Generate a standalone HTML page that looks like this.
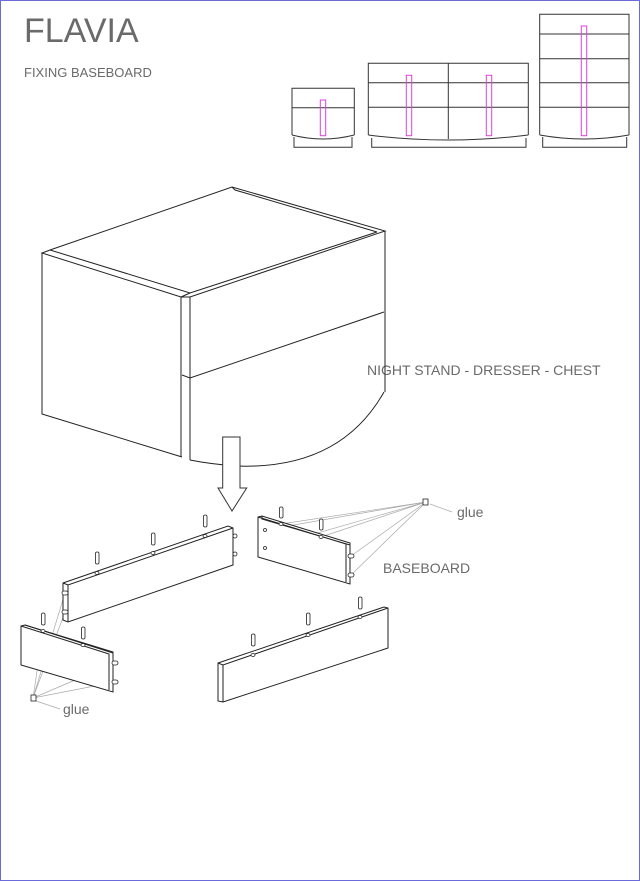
<!DOCTYPE html>
<html><head><meta charset="utf-8"><style>
html,body{margin:0;padding:0;background:#fff}
svg{display:block}
text{font-family:"Liberation Sans",Arial,sans-serif;fill:#6a6a6a}
</style></head><body>
<svg width="640" height="881" viewBox="0 0 640 881" xmlns="http://www.w3.org/2000/svg">
<rect x="0.5" y="0.5" width="639" height="880" fill="#fff" stroke="#6b6bdc" stroke-width="1"/>
<text x="24" y="42" font-size="34">FLAVIA</text>
<text x="24" y="77" font-size="13">FIXING BASEBOARD</text>
<text x="367" y="375" font-size="14">NIGHT STAND - DRESSER - CHEST</text>
<text x="383" y="573" font-size="14">BASEBOARD</text>
<text x="457" y="517" font-size="14">glue</text>
<text x="63" y="714" font-size="14">glue</text>

<g fill="none" stroke="#333" stroke-width="1">
<path d="M292,135 V88.3 H354.3 V135 M292,107.7 H354.3 M292,135 Q323,143 354.3,135 M294,137 V147.3 H352 V137"/>
<path d="M368.3,135 V63.3 H528.3 V135 M368.3,82.7 H528.3 M368.3,107.3 H528.3 M448.3,63.3 V139 M368.3,135 Q448,145 528.3,135 M371.7,138 V147.3 H526 V138"/>
<path d="M539.7,135 V14.3 H629 V135 M539.7,34 H629 M539.7,58.7 H629 M539.7,82.7 H629 M539.7,107.3 H629 M539.7,135 Q584,143 629,135 M542.7,137 V147.3 H626.7 V137"/>
</g>
<g fill="none" stroke="#e040e0" stroke-width="1">
<rect x="320.3" y="100" width="5.4" height="35.7"/>
<rect x="406.3" y="75.3" width="5.4" height="60.4"/>
<rect x="486.3" y="75.3" width="5.4" height="60.4"/>
<rect x="581.3" y="26" width="5.4" height="109.7"/>
</g>

<g fill="none" stroke="#222" stroke-width="1">
<path d="M42,253 L50,250 L232,187 L385,231 L190,297 L181,297 L42,253 Z"/>
<path d="M50,250 L190,293 L377,232 M232,187 L235,190 L377,232 M181,297 L190,293"/>
<path d="M42,253 V414 L182,457 M181,297 V457 M190,297 V460"/>
<path d="M385,231 V392 M182,375 L190,378 L384,312"/>
<path d="M384,392 Q340,470 236,466 Q210,464 190,460"/>
</g>
<path d="M222.7,437 H240 V488 H246.7 L232,511 L218,488 H222.7 Z" fill="#fff" stroke="#333" stroke-width="1"/>

<g stroke="#aaa" stroke-width="0.7" fill="none">
<path d="M426,502 L265,530 M426,502 L265,548 M426,502 L281,524 M426,502 L321,537 M426,502 L351,556 M426,502 L351,575 M430,504 L452,512"/>
<path d="M33,698 L65,593 M33,698 L65,612 M33,698 L115,663 M33,698 L115,682 M33,698 L43,631 M36,701 L60,709"/>
</g>

<g fill="#fff" stroke="#222" stroke-width="1">
<path d="M63,583 L228,526 L233,528 V565 L68,622 L63,620 Z"/>
<path d="M63,583 L68,585 L233,528 M68,585 V622" fill="none"/>
<path d="M258,517 L262,516 L350,543 V584 L258,557 Z"/>
<path d="M262,516 L262,519 L350,545 M258,517 L346,544 L346,582" fill="none"/>
<path d="M21,626 L25,625 L113,652 V692 L21,665 Z"/>
<path d="M25,625 L113,653 M21,626 L109,654 L109,690" fill="none"/>
<path d="M218,663 L384,607 L388,608 V648 L223,702 L218,701 Z"/>
<path d="M218,663 L223,665 L388,608 M223,665 V702" fill="none"/>
</g>

<g fill="#fff" stroke="#222" stroke-width="0.8">
<ellipse cx="97" cy="573" rx="2" ry="1.5"/><ellipse cx="153" cy="553" rx="2" ry="1.5"/><ellipse cx="205" cy="536" rx="2" ry="1.5"/>
<ellipse cx="281" cy="524" rx="2" ry="1.5"/><ellipse cx="321" cy="537" rx="2" ry="1.5"/>
<ellipse cx="265" cy="530" rx="1.5" ry="1.5"/><ellipse cx="265" cy="548" rx="1.5" ry="1.5"/>
<ellipse cx="43" cy="631" rx="2" ry="1.5"/><ellipse cx="83" cy="645" rx="2" ry="1.5"/>
<ellipse cx="253" cy="655" rx="2" ry="1.5"/><ellipse cx="308" cy="635" rx="2" ry="1.5"/><ellipse cx="360" cy="617" rx="2" ry="1.5"/>
</g>
<g fill="#fff" stroke="#222" stroke-width="0.8">
<rect x="95.5" y="552" width="3.5" height="12" rx="1.5"/>
<rect x="151.5" y="533" width="3.5" height="12" rx="1.5"/>
<rect x="203.5" y="515" width="3.5" height="12" rx="1.5"/>
<rect x="279.5" y="507" width="3.5" height="11" rx="1.5"/>
<rect x="319.5" y="519" width="3.5" height="11" rx="1.5"/>
<rect x="41.5" y="613" width="3.5" height="12" rx="1.5"/>
<rect x="81.5" y="627" width="3.5" height="12" rx="1.5"/>
<rect x="251.5" y="634" width="3.5" height="12" rx="1.5"/>
<rect x="306.5" y="613" width="3.5" height="12" rx="1.5"/>
<rect x="358.5" y="597" width="3.5" height="12" rx="1.5"/>
<rect x="62" y="591" width="6" height="4" rx="2"/>
<rect x="62" y="610" width="6" height="4" rx="2"/>
<rect x="233" y="534" width="4" height="4" rx="2"/>
<rect x="233" y="552" width="4" height="4" rx="2"/>
<rect x="348" y="554" width="6" height="4" rx="2"/>
<rect x="348" y="573" width="6" height="4" rx="2"/>
<rect x="112" y="661" width="6" height="4" rx="2"/>
<rect x="112" y="680" width="6" height="4" rx="2"/>
<rect x="423" y="499" width="5" height="6"/>
<rect x="31" y="695" width="5" height="6"/>
</g>
</svg>
</body></html>
